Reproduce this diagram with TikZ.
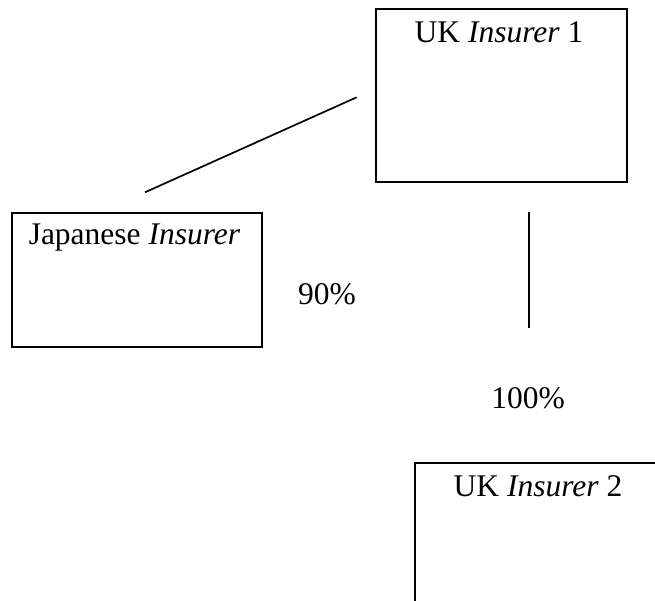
\documentclass[tikz,border=0pt]{standalone}
\usepackage{fontspec}
\setmainfont{Liberation Serif}
\begin{document}
\begin{tikzpicture}[x=1pt,y=-1pt,
  box/.style={draw=black, line width=1.7pt, rectangle, inner sep=0pt, anchor=north west},
  lbl/.style={inner sep=0pt, anchor=base, font=\fontsize{31.5}{38}\selectfont},
  link/.style={draw=black, line width=1.7pt}]
\useasboundingbox (0,0) rectangle (655,601);
% boxes
\node[box, minimum width=251pt, minimum height=173pt] (uk1) at (375,8) {};
\node[box, minimum width=250pt, minimum height=134pt] (jp) at (11,212) {};
\node[box, minimum width=250pt, minimum height=170pt] (uk2) at (414,462) {};
% box texts
\node[lbl] (uk1t) at (499,43) {UK \textit{Insurer} 1};
\node[lbl] (jpt) at (134.5,245) {Japanese \textit{Insurer}};
\node[lbl] (uk2t) at (538,496) {UK \textit{Insurer} 2};
% percentages
\node[lbl] (p90) at (327,305) {90\%};
\node[lbl] (p100) at (528,408) {100\%};
% connector end points
\coordinate (d1) at (145,192.3);
\coordinate (d2) at (356.7,97.3);
\coordinate (v1) at (529.3,211.7);
\coordinate (v2) at (529.3,327.7);
\draw[link] (d1) -- (d2);
\draw[link] (v1) -- (v2);
\end{tikzpicture}
\end{document}
